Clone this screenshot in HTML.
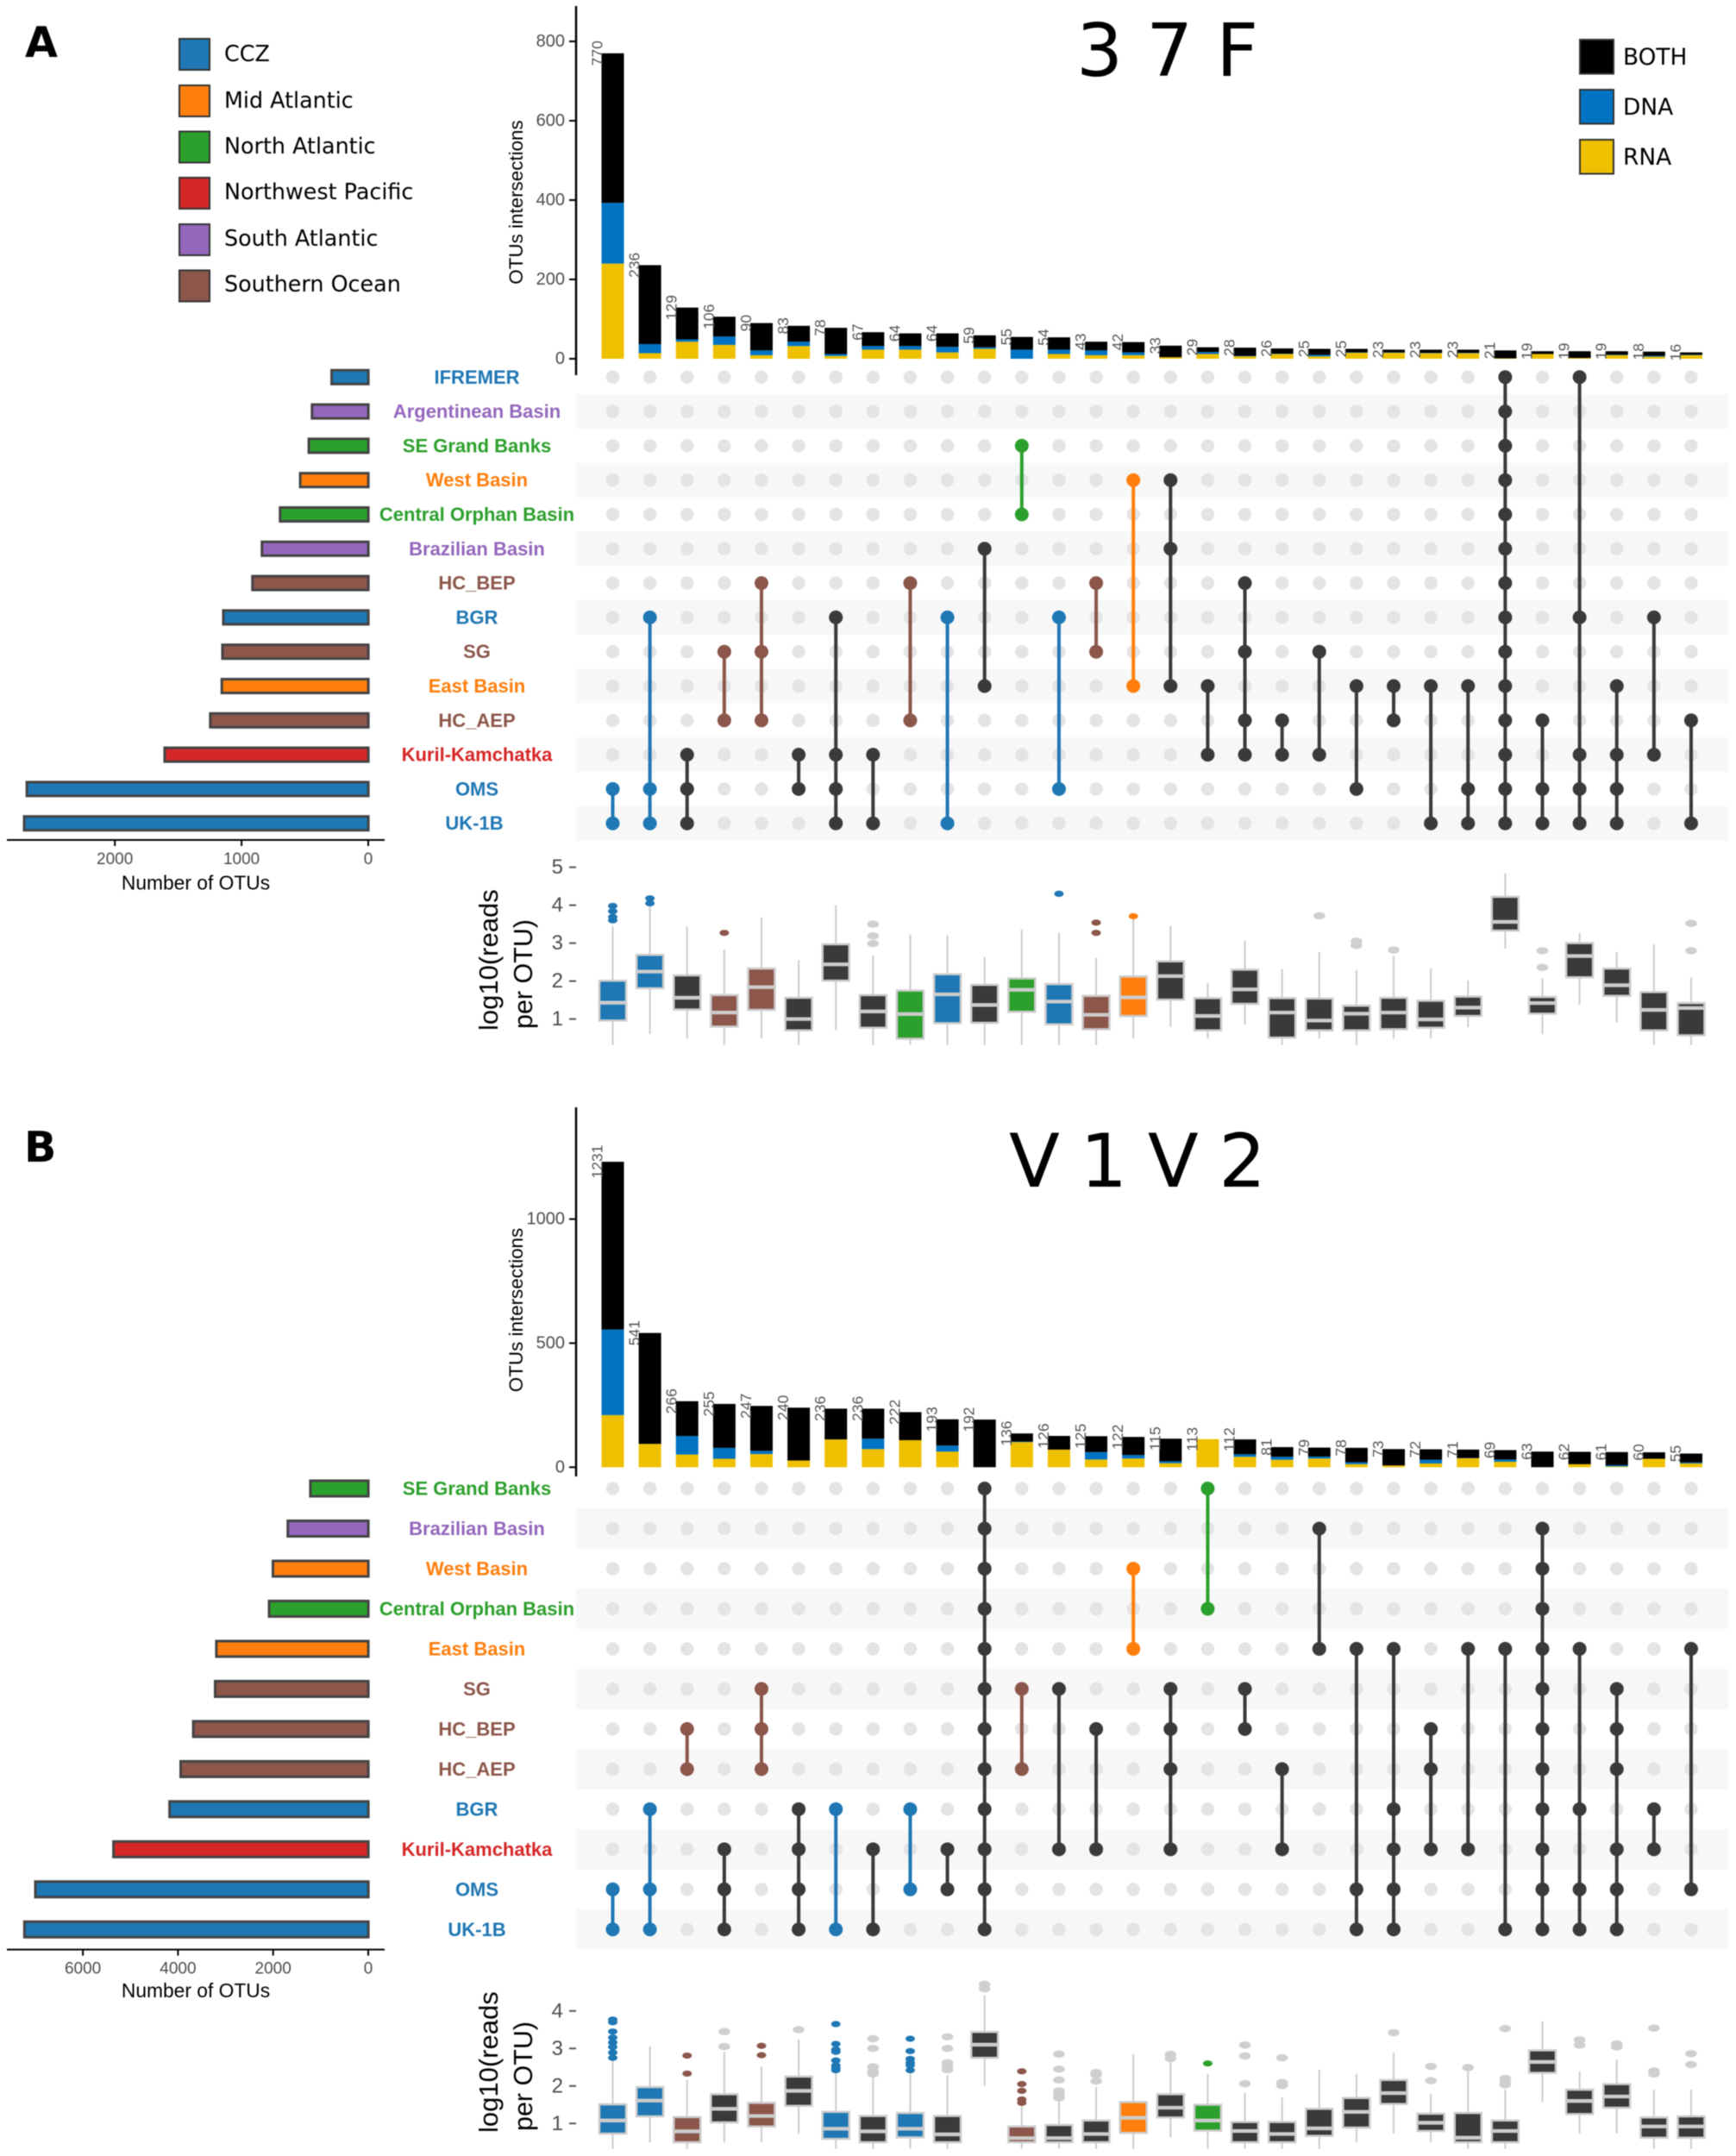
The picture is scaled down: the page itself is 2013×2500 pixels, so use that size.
<!DOCTYPE html>
<html lang="en">
<head>
<meta charset="utf-8">
<title>37F and V1V2 UpSet plots</title>
<style>
html,body{margin:0;padding:0;background:#fff;}
svg{display:block;filter:blur(0.5px);}
.dj{font-family:"DejaVu Sans",sans-serif;}
text{font-family:"Liberation Sans",sans-serif;}
text.dj{font-family:"DejaVu Sans",sans-serif;}
</style>
</head>
<body>
<svg id="chart" xmlns="http://www.w3.org/2000/svg" width="2013" height="2500" viewBox="0 0 2013 2500">
  <rect x="0" y="0" width="2013" height="2500" fill="#fff"/>
  <text class="dj" x="29" y="66" font-size="49" font-weight="bold">A</text>
  <text class="dj" x="28" y="1347" font-size="49" font-weight="bold">B</text>
  <text class="dj" x="1248" y="88" font-size="85">3 7 F</text>
  <text class="dj" x="1170" y="1376" font-size="86" textLength="298" lengthAdjust="spacing">V 1 V 2</text>

  <g font-size="25.4">
    <g><rect x="208" y="45" width="35" height="36" fill="#1f77b4" stroke="#333" stroke-width="2"/><text class="dj" x="260" y="71">CCZ</text></g>
    <g><rect x="208" y="99" width="35" height="36" fill="#ff7f0e" stroke="#333" stroke-width="2"/><text class="dj" x="260" y="125">Mid Atlantic</text></g>
    <g><rect x="208" y="152.5" width="35" height="36" fill="#2ca02c" stroke="#333" stroke-width="2"/><text class="dj" x="260" y="178">North Atlantic</text></g>
    <g><rect x="208" y="206" width="35" height="36" fill="#d62728" stroke="#333" stroke-width="2"/><text class="dj" x="260" y="231">Northwest Pacific</text></g>
    <g><rect x="208" y="260" width="35" height="36" fill="#9467bd" stroke="#333" stroke-width="2"/><text class="dj" x="260" y="285">South Atlantic</text></g>
    <g><rect x="208" y="313.5" width="35" height="36" fill="#8c564b" stroke="#333" stroke-width="2"/><text class="dj" x="260" y="338">Southern Ocean</text></g>
  </g>

  <g font-size="26.4">
    <g><rect x="1832" y="46" width="39" height="39.5" fill="#000" stroke="#333" stroke-width="2"/><text class="dj" x="1882" y="75">BOTH</text></g>
    <g><rect x="1832" y="104" width="39" height="39.5" fill="#0073c2" stroke="#333" stroke-width="2"/><text class="dj" x="1882" y="133">DNA</text></g>
    <g><rect x="1832" y="162" width="39" height="39.5" fill="#efc000" stroke="#333" stroke-width="2"/><text class="dj" x="1882" y="191">RNA</text></g>
  </g>
</svg>

<script>
/* ---------- Panel A (37F) data ---------- */
const aBoth = [377,199,80,50,69,40,66,35,32,34,30,32,31,22,26,29,12,21,13,15,9,7,8,8,20,7,17,9,11,6];
const aDna  = [153,23,6,21,12,11,5,9,9,14,4,23,11,12,7,0,5,1,1,4,1,1,1,1,0,0,0,1,2,1];
const aRna  = [240,14,43,35,9,32,7,23,23,16,25,0,12,9,9,4,12,6,12,6,15,15,14,14,1,12,2,9,5,9];
const aBarTicks = [0,200,400,600,800];
const aSetNames = ['IFREMER','Argentinean Basin','SE Grand Banks','West Basin','Central Orphan Basin','Brazilian Basin','HC_BEP','BGR','SG','East Basin','HC_AEP','Kuril-Kamchatka','OMS','UK-1B'];
const aSetRegions = ['CCZ','South','North','Mid','North','South','Southern','CCZ','Southern','Mid','Southern','Pacific','CCZ','CCZ'];
const aSetSizes = [310,465,490,558,717,860,935,1165,1172,1177,1268,1628,2716,2737];
const aSizeTicks = [0,1000,2000];
const aMembers = [[12,13],[7,12,13],[11,12,13],[8,10],[6,8,10],[11,12],[7,11,12,13],[11,13],[6,10],[7,13],[5,9],[2,4],[7,12],[6,8],[3,9],[3,5,9],[9,11],[6,8,10,11],[10,11],[8,11],[9,12],[9,10],[9,13],[9,12,13],[0,1,2,3,4,5,6,7,8,9,10,11,12,13],[10,12,13],[0,7,11,12,13],[9,11,12,13],[7,11],[10,13]];
const aColumnRegions = ['CCZ','CCZ','Multi','Southern','Southern','Multi','Multi','Multi','Southern','CCZ','Multi','North','CCZ','Southern','Mid','Multi','Multi','Multi','Multi','Multi','Multi','Multi','Multi','Multi','Multi','Multi','Multi','Multi','Multi','Multi'];
const aBoxRegions = ['CCZ','CCZ','Multi','Southern','Southern','Multi','Multi','Multi','North','CCZ','Multi','North','CCZ','Southern','Mid','Multi','Multi','Multi','Multi','Multi','Multi','Multi','Multi','Multi','Multi','Multi','Multi','Multi','Multi','Multi'];
const aBoxLow = [.32,.61,.48,.32,.48,.32,.71,.32,.32,.32,.32,.32,.32,.32,.48,.79,.48,.85,.32,.48,.32,.48,.48,.79,2.86,.61,1.38,.91,.32,.32];
const aBoxQ1  = [.96,1.81,1.25,.8,1.24,.7,2.01,.77,.48,.89,.9,1.19,.86,.73,1.08,1.51,.7,1.4,.51,.7,.7,.73,.77,1.08,3.33,1.14,2.1,1.61,.7,.57];
const aBoxMed = [1.43,2.25,1.56,1.17,1.84,1.0,2.44,1.2,1.13,1.65,1.37,1.77,1.46,1.11,1.57,2.13,1.08,1.78,1.17,.96,1.14,1.17,.99,1.3,3.56,1.42,2.66,1.89,1.24,1.29];
const aBoxQ3  = [2.01,2.69,2.15,1.63,2.33,1.56,2.97,1.63,1.75,2.18,1.9,2.07,1.92,1.61,2.12,2.52,1.55,2.3,1.55,1.54,1.35,1.56,1.48,1.59,4.22,1.58,3.0,2.33,1.71,1.42];
const aBoxHigh = [3.44,3.98,3.44,2.83,3.67,2.55,4.0,2.67,3.23,3.2,2.63,3.36,3.27,2.61,3.65,3.46,1.95,3.07,2.32,2.77,2.29,2.66,2.33,2.02,4.84,2.07,3.27,2.76,2.97,2.09];
const aBoxOut = [[3.98,3.84,3.69,3.6],[4.18,4.05],[],[3.27],[],[],[],[3.5,3.19,2.99],[],[],[],[],[4.3],[3.54,3.27],[3.71],[],[],[],[],[3.72],[3.05,2.94],[2.82],[],[],[],[2.8,2.36],[],[],[],[3.52,2.8]];
const aBoxTicks = [1,2,3,4,5];

/* ---------- Panel B (V1V2) data ---------- */
const bBoth = [676,447,140,177,181,213,124,121,113,106,192,33,55,64,73,91,0,60,39,36,58,66,42,34,38,63,50,53,26,36];
const bDna  = [345,0,75,44,13,0,0,42,0,24,0,2,0,30,14,8,0,10,12,8,8,0,15,1,9,0,0,5,0,4];
const bRna  = [210,94,51,34,53,27,112,73,109,63,0,101,71,31,35,16,113,42,30,35,12,7,15,36,22,0,12,3,34,15];
const bBarTicks = [0,500,1000];
const bSetNames = ['SE Grand Banks','Brazilian Basin','West Basin','Central Orphan Basin','East Basin','SG','HC_BEP','HC_AEP','BGR','Kuril-Kamchatka','OMS','UK-1B'];
const bSetRegions = ['North','South','Mid','North','Mid','Southern','Southern','Southern','CCZ','Pacific','CCZ','CCZ'];
const bSetSizes = [1273,1747,2060,2140,3250,3275,3735,4000,4233,5412,7055,7285];
const bSizeTicks = [0,2000,4000,6000];
const bMembers = [[10,11],[8,10,11],[6,7],[9,10,11],[5,6,7],[8,9,10,11],[8,11],[9,11],[8,10],[9,10],[0,1,2,3,4,5,6,7,8,9,10,11],[5,7],[5,9],[6,9],[2,4],[5,6,7,9],[0,3],[5,6],[7,9],[1,4],[4,10,11],[4,8,9,10,11],[6,7,9],[4,9],[4,11],[1,2,3,4,5,6,7,8,9,10,11],[4,8,10,11],[5,6,7,9,10,11],[8,9],[4,10]];
const bColumnRegions = ['CCZ','CCZ','Southern','Multi','Southern','Multi','CCZ','Multi','CCZ','Multi','Multi','Southern','Multi','Multi','Mid','Multi','North','Multi','Multi','Multi','Multi','Multi','Multi','Multi','Multi','Multi','Multi','Multi','Multi','Multi'];
const bBoxRegions = bColumnRegions;
const bBoxLow = [.33,.49,.33,.49,.49,.73,.33,.33,.33,.33,2.0,.33,.33,.33,.33,.63,.33,.33,.33,.33,.49,.73,.49,.33,.33,1.57,.73,.73,.33,.33];
const bBoxQ1  = [.73,1.19,.5,1.03,.92,1.47,.59,.5,.63,.5,2.75,.5,.5,.5,.75,1.16,.81,.5,.5,.67,.89,1.52,.8,.5,.5,2.35,1.25,1.42,.62,.62];
const bBoxMed = [1.08,1.61,.79,1.39,1.2,1.87,.86,.79,.86,.71,3.1,.61,.61,.72,1.15,1.42,1.08,.8,.72,.87,1.31,1.81,1.02,.62,.8,2.64,1.6,1.72,.92,.92];
const bBoxQ3  = [1.51,1.97,1.17,1.78,1.55,2.25,1.31,1.2,1.28,1.2,3.44,.92,.96,1.08,1.57,1.78,1.5,1.04,1.04,1.39,1.68,2.16,1.26,1.28,1.08,2.95,1.9,2.05,1.16,1.19];
const bBoxHigh = [2.74,3.06,2.16,2.91,2.51,3.24,2.36,2.28,2.36,2.28,4.42,1.47,1.59,1.97,2.84,2.7,2.32,1.82,1.7,2.43,2.32,2.89,1.8,2.43,1.9,3.72,2.39,2.7,1.9,1.9];
const bBoxOut = [[3.77,3.7,3.45,3.29,3.16,3.04,2.89,2.75],[],[2.81,2.33],[3.45,3.05],[3.07,2.82],[3.5],[3.65,3.12,2.97,2.91,2.68,2.55,2.47,2.42],[3.26,3.0,2.51,2.39,2.32],[3.26,2.93,2.72,2.62,2.55,2.42],[3.31,3.0,2.62,2.51,2.43],[4.71,4.59],[2.39,2.05,1.87,1.64,1.55],[2.85,2.45,2.16,1.87,1.78,1.68],[2.36,2.3,2.13],[],[2.84,2.73],[2.6],[3.09,2.8,2.06],[2.75,2.09,2.01],[],[],[3.42],[2.52,2.14],[2.49],[3.53,2.2,2.09,2.03],[],[3.23,3.09],[3.12,3.04],[3.54,2.4,2.32],[2.86,2.57]];
const bBoxTicks = [1,2,3,4];

/* ---------- Style lookups ---------- */
const regionColors = {CCZ:'#1f77b4',Mid:'#ff7f0e',North:'#2ca02c',Pacific:'#d62728',South:'#9467bd',Southern:'#8c564b',Multi:'#3a3a3a'};
const typeColors = {both:'#000000',dna:'#0073c2',rna:'#efc000'};

const svg = document.getElementById('chart');
function make(tag, attrs, parent, text){
  const el = document.createElementNS('http://www.w3.org/2000/svg', tag);
  for (const k in attrs) el.setAttribute(k, attrs[k]);
  if (text !== undefined) el.textContent = text;
  parent.appendChild(el);
  return el;
}

function drawPanel(p){
  const colX = i => p.colX0 + i * p.colStep;
  const barY = v => p.barZero - v * p.barK;
  const rowY = r => p.rowY0 + r * p.rowStep;
  const sizeX = v => p.sizeRight - v * p.sizeK;
  const boxY = v => p.boxOne - (v - 1) * p.boxK;

  const root = make('g', {}, svg);
  
  

  /* intersection size axis */
  const axis = make('line', {x1:668,x2:668,y1:p.axisTop,y2:p.axisBottom,stroke:'#000','stroke-width':2.5}, root);
  
  
  p.barTicks.forEach(t => {
    const tick = make('line', {x1:660,x2:668,y1:barY(t),y2:barY(t),stroke:'#000','stroke-width':2}, root);
    
    
    const lab = make('text', {x:655,y:barY(t),'text-anchor':'end','dominant-baseline':'central','font-size':20,fill:'#4d4d4d'}, root, t);
    
    
  });
  const yTitle = make('text', {transform:'translate(606,' + p.titleY + ') rotate(-90)','text-anchor':'middle','font-size':22.4,fill:'#000'}, root, 'OTUs intersections');
  
  

  /* stacked bars */
  p.both.forEach((b, i) => {
    const rna = p.rna[i], dna = p.dna[i], total = rna + dna + b;
    const x = colX(i) - 13;
    if (rna > 0) {
      const r = make('rect', {x:x,width:26,y:barY(rna),height:barY(0)-barY(rna),fill:typeColors.rna}, root);
      
      
    }
    if (dna > 0) {
      const d = make('rect', {x:x,width:26,y:barY(rna+dna),height:barY(rna)-barY(rna+dna),fill:typeColors.dna}, root);
      
      
    }
    if (b > 0) {
      const c = make('rect', {x:x,width:26,y:barY(total),height:barY(rna+dna)-barY(total),fill:typeColors.both}, root);
      
      
    }
    const lab = make('text', {transform:'translate(' + (colX(i)-12) + ',' + barY(total) + ') rotate(-90)','text-anchor':'middle','font-size':17.5,fill:'#555'}, root, total);
    
    
  });

  /* matrix rows */
  p.setNames.forEach((name, r) => {
    if (r % 2 === 1) {
      const band = make('rect', {x:668,width:1336,y:rowY(r)-p.rowStep/2,height:p.rowStep,fill:'#f7f7f7'}, root);
      
      
    }
    const color = regionColors[p.setRegions[r]];
    const labelX = (p.id === 'a' && name === 'UK-1B') ? 550 : 553;
    const lab = make('text', {x:labelX,y:rowY(r),'text-anchor':'middle','dominant-baseline':'central','font-size':22,'font-weight':'bold',fill:color}, root, name);
    
    
    const left = sizeX(p.setSizes[r]);
    const bar = make('rect', {x:left+1.5,width:p.sizeRight-left-3,y:rowY(r)-p.sizeBarH/2+1.5,height:p.sizeBarH-3,fill:color,stroke:'#444','stroke-width':3}, root);
    
    
  });

  /* background dots */
  p.members.forEach((m, i) => {
    p.setNames.forEach((name, r) => {
      const dot = make('circle', {cx:colX(i),cy:rowY(r),r:7.7,fill:'#e4e4e4'}, root);
      
      
    });
  });

  /* set connections */
  p.members.forEach((m, i) => {
    const color = regionColors[p.columnRegions[i]];
    const line = make('line', {x1:colX(i),x2:colX(i),y1:rowY(Math.min(...m)),y2:rowY(Math.max(...m)),stroke:color,'stroke-width':4}, root);
    
    
    m.forEach(r => {
      const dot = make('circle', {cx:colX(i),cy:rowY(r),r:8,fill:color}, root);
      
      
    });
  });

  /* set size axis */
  const sAxis = make('line', {x1:8,x2:446,y1:p.sizeAxisY,y2:p.sizeAxisY,stroke:'#000','stroke-width':2}, root);
  
  
  p.sizeTicks.forEach(t => {
    const tx = sizeX(t) - 1.6;
    const tick = make('line', {x1:tx,x2:tx,y1:p.sizeAxisY,y2:p.sizeAxisY+7,stroke:'#000','stroke-width':2}, root);
    
    
    const lab = make('text', {x:tx,y:p.sizeAxisY+22.5,'text-anchor':'middle','dominant-baseline':'central','font-size':19,fill:'#4d4d4d'}, root, t);
    
    
  });
  const sTitle = make('text', {x:227,y:p.sizeTitleY,'text-anchor':'middle','dominant-baseline':'central','font-size':22.8,fill:'#000'}, root, 'Number of OTUs');
  
  

  /* box plots */
  p.boxTicks.forEach(t => {
    const tick = make('line', {x1:660,x2:668,y1:boxY(t),y2:boxY(t),stroke:'#555','stroke-width':2}, root);
    
    
    const lab = make('text', {x:653,y:boxY(t),'text-anchor':'end','dominant-baseline':'central','font-size':24,fill:'#4d4d4d'}, root, t);
    
    
  });
  const t1 = make('text', {transform:'translate(577,' + p.boxTitleY + ') rotate(-90)','font-size':31,fill:'#000'}, root, 'log10(reads');
  
  
  const t2 = make('text', {transform:'translate(617,' + (p.boxTitleY-2) + ') rotate(-90)','font-size':30.5,fill:'#000'}, root, 'per OTU)');
  
  

  p.boxMed.forEach((med, i) => {
    const cx = colX(i);
    const region = p.boxRegions[i];
    const fill = regionColors[region];
    const whisker = make('line', {x1:cx,x2:cx,y1:boxY(p.boxLow[i]),y2:boxY(p.boxHigh[i]),stroke:'#cccccc','stroke-width':2}, root);
    
    
    p.boxOut[i].forEach(v => {
      const grey = region === 'Multi';
      const o = make('ellipse', {cx:cx,cy:boxY(v),rx:grey?6.8:5.5,ry:grey?4.2:3.6,fill:grey?'#cfcfcf':fill}, root);
      
      
    });
    const box = make('rect', {x:cx-15.5,width:31,y:boxY(p.boxQ3[i]),height:boxY(p.boxQ1[i])-boxY(p.boxQ3[i]),fill:fill,stroke:'#cccccc','stroke-width':2.5}, root);
    
    
    const median = make('line', {x1:cx-16,x2:cx+16,y1:boxY(med),y2:boxY(med),stroke:'#cccccc','stroke-width':4.3}, root);
    
    
  });
}

drawPanel({
  id:'a', colX0:710.5, colStep:43.12,
  axisTop:7, axisBottom:435, barZero:416, barK:.46, titleY:234.5,
  both:aBoth, dna:aDna, rna:aRna, barTicks:aBarTicks,
  rowY0:437.3, rowStep:39.8, setNames:aSetNames, setRegions:aSetRegions, setSizes:aSetSizes,
  sizeRight:428.6, sizeK:.1469, sizeBarH:19, sizeTicks:aSizeTicks, sizeAxisY:974, sizeTitleY:1023.5,
  members:aMembers, columnRegions:aColumnRegions, boxRegions:aBoxRegions,
  boxOne:1181.6, boxK:44, boxTitleY:1195, boxTicks:aBoxTicks,
  boxLow:aBoxLow, boxQ1:aBoxQ1, boxMed:aBoxMed, boxQ3:aBoxQ3, boxHigh:aBoxHigh, boxOut:aBoxOut
});
drawPanel({
  id:'b', colX0:710.5, colStep:43.12,
  axisTop:1284, axisBottom:1712, barZero:1701.3, barK:.2877, titleY:1519,
  both:bBoth, dna:bDna, rna:bRna, barTicks:bBarTicks,
  rowY0:1726, rowStep:46.48, setNames:bSetNames, setRegions:bSetRegions, setSizes:bSetSizes,
  sizeRight:428.6, sizeK:.05515, sizeBarH:21, sizeTicks:bSizeTicks, sizeAxisY:2260.6, sizeTitleY:2308,
  members:bMembers, columnRegions:bColumnRegions, boxRegions:bBoxRegions,
  boxOne:2462.3, boxK:43.5, boxTitleY:2473, boxTicks:bBoxTicks,
  boxLow:bBoxLow, boxQ1:bBoxQ1, boxMed:bBoxMed, boxQ3:bBoxQ3, boxHigh:bBoxHigh, boxOut:bBoxOut
});
</script>
</body>
</html>
